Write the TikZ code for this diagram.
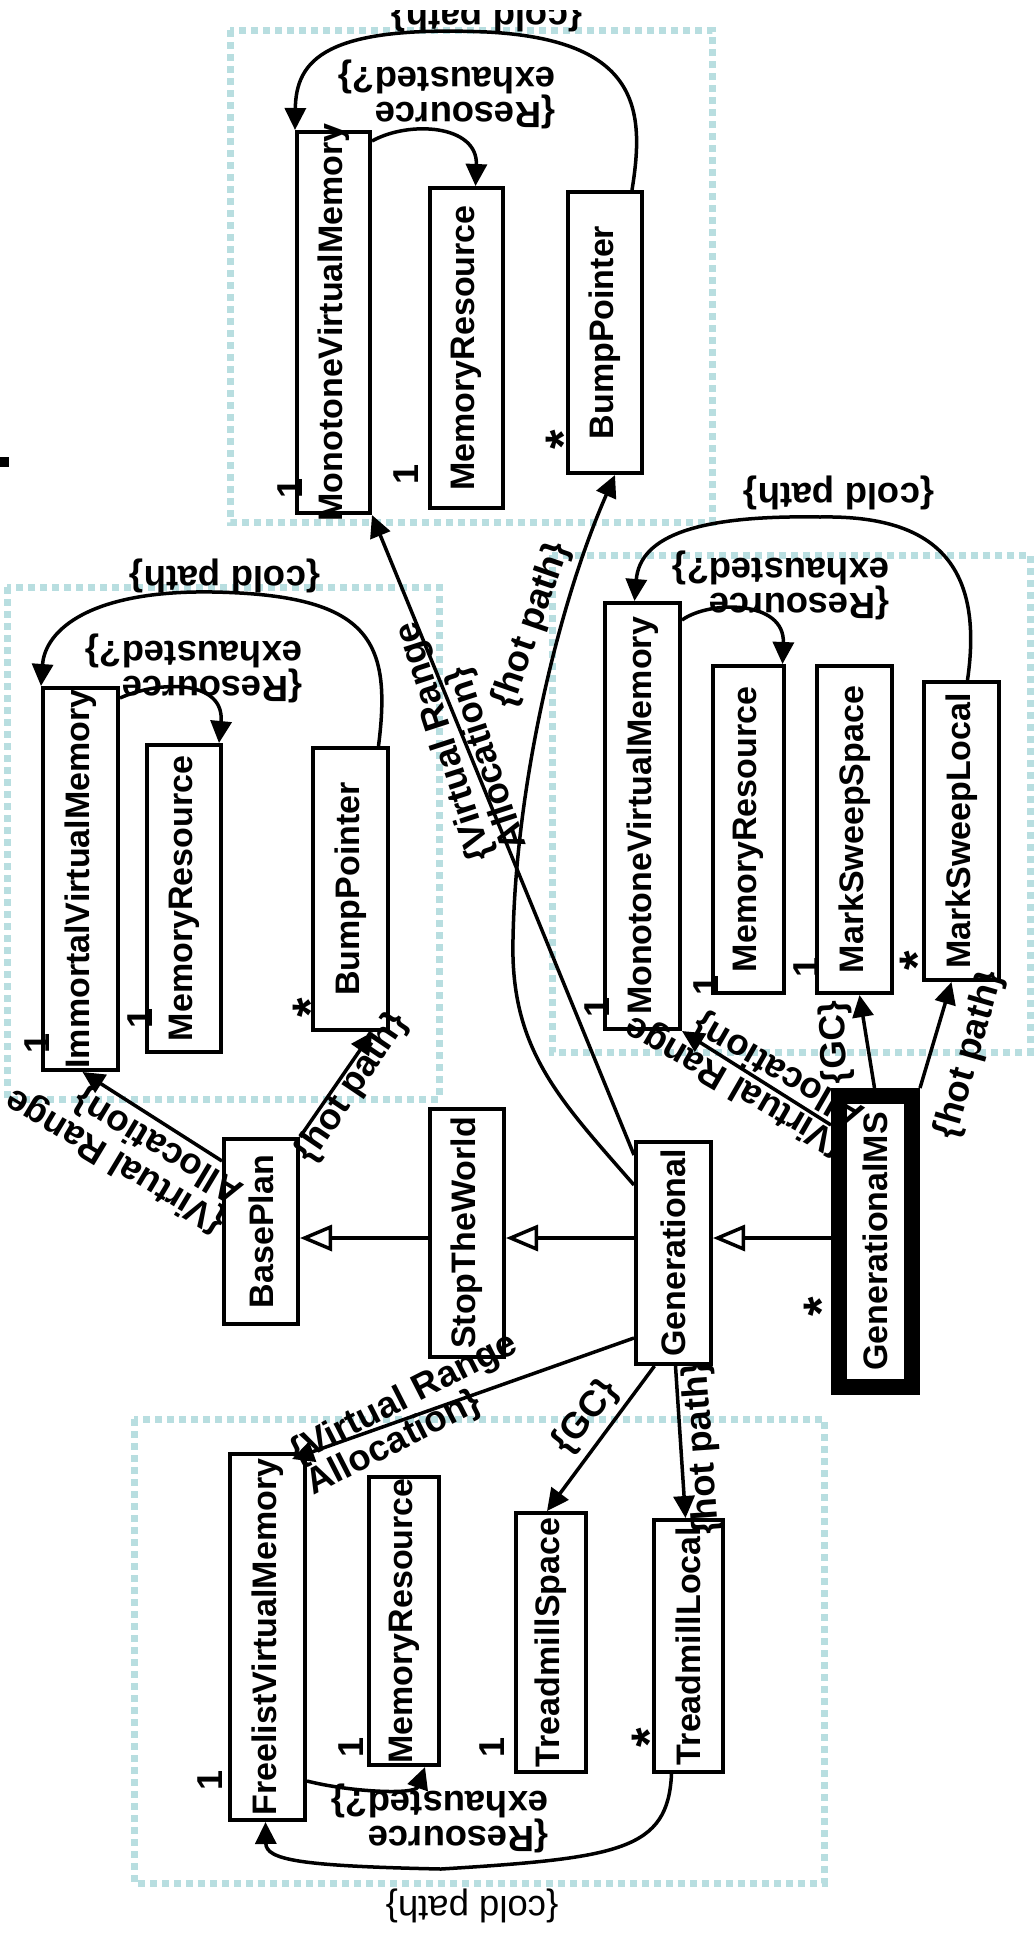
\documentclass[tikz,border=0pt]{standalone}
\usepackage{fontspec}
\setmainfont{Liberation Sans}
\usepackage{graphicx}
\usetikzlibrary{arrows.meta,calc}
\definecolor{regcol}{RGB}{184,222,224}
\newcommand{\vt}[1]{\rotatebox{90}{\makebox[0pt]{#1}}}
\begin{document}
\begin{tikzpicture}[x=1pt,y=-1pt,
  box/.style={draw,line width=4pt,inner sep=0pt,font=\fontsize{34}{34}\selectfont\bfseries},
  lbl/.style={font=\fontsize{36.5}{34}\selectfont\bfseries,align=left,inner sep=0pt},
  lblr/.style={font=\fontsize{36.5}{34}\selectfont,align=left,inner sep=0pt},
  mult/.style={font=\fontsize{36}{36}\selectfont\bfseries,inner sep=0pt,rotate=90},
  star/.style={font=\fontsize{50}{50}\selectfont\bfseries,inner sep=0pt,rotate=90},
  conn/.style={line width=3.5pt,-{Triangle[length=22pt,width=21pt]}},
  inh/.style={line width=3.5pt,-{Triangle[fill=white,length=32pt,width=26pt]}},
  region/.style={draw=regcol,line width=7pt,dash pattern=on 7pt off 5pt}]
\useasboundingbox (0,0) rectangle (1034,1933);

% regions
\draw[region] (230,30) rectangle (712,522);
\draw[region] (7,587) rectangle (439,1099);
\draw[region] (552,555) rectangle (1030,1052);
\draw[region] (134,1419) rectangle (824,1883);

\fill (0,457) rectangle (9,467);

% boxes
\node[box,minimum width=73pt,minimum height=381pt] (mvm1) at (333.5,322.5) {\vt{MonotoneVirtualMemory}};
\node[box,minimum width=73pt,minimum height=320pt] (mr1) at (466.5,348) {\vt{MemoryResource}};
\node[box,minimum width=74pt,minimum height=281pt] (bp1) at (605,332.5) {\vt{BumpPointer}};
\node[box,minimum width=75pt,minimum height=382pt] (ivm) at (80.5,879) {\vt{ImmortalVirtualMemory}};
\node[box,minimum width=74pt,minimum height=307pt] (mr2) at (184,898.5) {\vt{MemoryResource}};
\node[box,minimum width=75pt,minimum height=282pt] (bp2) at (350.5,889) {\vt{BumpPointer}};
\node[box,minimum width=75pt,minimum height=426pt] (mvm2) at (642.5,816) {\vt{MonotoneVirtualMemory}};
\node[box,minimum width=71pt,minimum height=327pt] (mr3) at (748.5,829.5) {\vt{MemoryResource}};
\node[box,minimum width=75pt,minimum height=327pt] (mss) at (854.5,829.5) {\vt{MarkSweepSpace}};
\node[box,minimum width=75pt,minimum height=298pt] (msl) at (961.5,831) {\vt{MarkSweepLocal}};
\node[box,minimum width=74pt,minimum height=185pt] (bp) at (261,1231.5) {\vt{BasePlan}};
\node[box,minimum width=74pt,minimum height=248pt] (stw) at (467,1233) {\vt{StopTheWorld}};
\node[box,minimum width=75pt,minimum height=222pt] (gen) at (673.5,1253) {\vt{Generational}};
\node[box,line width=16pt,minimum width=73pt,minimum height=291pt] (gms) at (875.5,1241.5) {\vt{GenerationalMS}};
\node[box,minimum width=75pt,minimum height=366pt] (fvm) at (267.5,1637) {\vt{FreelistVirtualMemory}};
\node[box,minimum width=70pt,minimum height=288pt] (mr4) at (404,1621) {\vt{MemoryResource}};
\node[box,minimum width=70pt,minimum height=259pt] (ts) at (551,1642.5) {\vt{TreadmillSpace}};
\node[box,minimum width=69pt,minimum height=252pt] (tl) at (688.5,1646) {\vt{TreadmillLocal}};

% multiplicities
\node[mult] (m1) at (290,488) {1};
\node[mult] (m2) at (406,474) {1};
\node[star] (m3) at (563,440) {*};
\node[mult] (m4) at (37,1043) {1};
\node[mult] (m5) at (140,1018) {1};
\node[star] (m6) at (310,1008) {*};
\node[mult] (m7) at (597,1007) {1};
\node[mult] (m8) at (706,985) {1};
\node[mult] (m9) at (806,967) {1};
\node[star] (m10) at (917,961) {*};
\node[star] (m11) at (821,1307) {*};
\node[mult] (m12) at (210,1780) {1};
\node[mult] (m13) at (351,1747) {1};
\node[mult] (m14) at (492,1747) {1};
\node[star] (m15) at (649,1738) {*};

% region labels
\begin{scope}
\clip (0,10) rectangle (1034,60);
\node[lbl,rotate=180] (cp1) at (487,15) {\{cold path\}};
\end{scope}
\node[lbl,rotate=180] (re1) at (447,94) {\{Resource\\exhausted?\}};
\node[lbl,rotate=180] (cp2) at (225,576) {\{cold path\}};
\node[lbl,rotate=180] (re2) at (194,668) {\{Resource\\exhausted?\}};
\node[lbl,rotate=180] (cp3) at (839,493) {\{cold path\}};
\node[lbl,rotate=180] (re3) at (781,585) {\{Resource\\exhausted?\}};
\node[lbl,rotate=180] (re4) at (440,1818) {\{Resource\\exhausted?\}};
\node[lblr,rotate=180] (cp4) at (472,1906) {\{cold path\}};

% connector labels
\node[lbl,rotate=108] (va1) at (462,736) {\{Virtual Range\\Allocation\}};
\node[lbl,rotate=71] (hp1) at (532,625) {\{hot path\}};
\node[lbl,rotate=149] (va2) at (125,1145) {\{Virtual Range\\Allocation\}};
\node[lbl,rotate=56] (hp2) at (352,1088) {\{hot path\}};
\node[lbl,rotate=150] (va3) at (745,1070) {\{Virtual Range\\Allocation\}};
\node[lbl,rotate=93] (gc1) at (836,1042) {\{GC\}};
\node[lbl,rotate=74] (hp3) at (970,1055) {\{hot path\}};
\node[lbl,rotate=27] (va4) at (412,1415) {\{Virtual Range\\Allocation\}};
\node[lbl,rotate=52] (gc2) at (586,1417) {\{GC\}};
\node[lbl,rotate=94] (hp4) at (703,1448) {\{hot path\}};

% inheritance
\coordinate (iy) at (0,1238);
\draw[inh] (stw.west |- iy) -- (bp.east |- iy);
\draw[inh] (gen.west |- iy) -- (stw.east |- iy);
\draw[inh] (gms.west |- iy) -- (gen.east |- iy);

% region 1 connectors
\draw[conn] ([xshift=27pt]bp1.north) .. controls (645,110) and (640,40) .. (487,32) .. controls (325,25) and (296,60) .. (mvm1.north west);
\draw[conn] ([yshift=-11pt]mvm1.north east) .. controls (410,120) and (478,125) .. ([xshift=9pt]mr1.north);

% region 2 connectors
\draw[conn] ([xshift=28pt]bp2.north) .. controls (392,640) and (370,595) .. (213,592) .. controls (90,590) and (45,630) .. (ivm.north west);
\draw[conn] ([yshift=-12pt]ivm.north east) .. controls (160,680) and (225,680) .. ([xshift=35pt]mr2.north);

% region 3 connectors
\draw[conn] ([xshift=6pt]msl.north) .. controls (985,560) and (930,515) .. (820,517) .. controls (700,515) and (640,535) .. ([xshift=-8pt]mvm2.north);
\draw[conn] ([yshift=-19pt]mvm2.north east) .. controls (710,600) and (785,600) .. ([xshift=34pt]mr3.north);

% region 4 connectors
\draw[conn] ([xshift=-17pt]tl.south) .. controls (668,1850) and (620,1858) .. (441,1869) .. controls (300,1866) and (266,1860) .. ([xshift=-2pt]fvm.south);
\draw[conn] ([yshift=41pt]fvm.south east) .. controls (350,1792) and (415,1795) .. ([xshift=21pt]mr4.south);

% plan connectors
\draw[conn] ([yshift=-45pt]gen.north west) .. controls (560,1100) and (510,1050) .. (513,939) .. controls (516,780) and (560,600) .. ([xshift=10pt]bp1.south);
\draw[conn] ([yshift=-15pt]gen.north west) -- (mvm1.south east);
\draw[conn] ([yshift=-198pt]gen.north west) -- ([xshift=-15pt,yshift=-7pt]fvm.north east);
\draw[conn] ([xshift=-19pt]gen.south) -- ([xshift=-4pt]ts.north);
\draw[conn] ([xshift=2pt]gen.south) -- ([xshift=-3pt]tl.north);
\draw[conn] ([xshift=-1pt]gms.north) -- ([xshift=5pt]mss.south);
\draw[conn] (gms.north east) -- ([xshift=-10pt]msl.south);
\draw[conn] ([yshift=-37pt]gms.north west) -- (mvm2.south east);
\draw[conn] ([yshift=-24pt]bp.north west) -- ([xshift=2pt]ivm.south);
\draw[conn] (bp.north east) -- ([xshift=22pt]bp2.south);
\end{tikzpicture}
\end{document}
